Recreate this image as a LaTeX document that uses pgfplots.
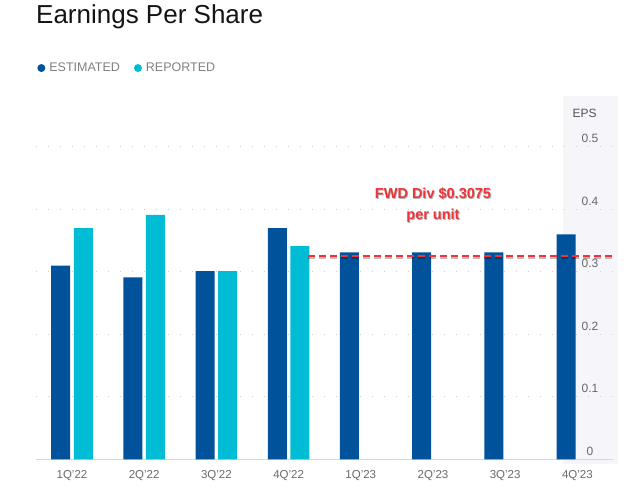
\documentclass[border=0pt]{standalone}
\usepackage{pgfplots}
\pgfplotsset{compat=1.18}
\usepackage{fontspec}
\setmainfont{Liberation Sans}
\definecolor{estc}{RGB}{0,82,155}
\definecolor{repc}{RGB}{0,188,212}
\definecolor{bandc}{RGB}{245,245,250}
\definecolor{gridc}{RGB}{205,205,205}
\definecolor{basec}{RGB}{208,216,232}
\definecolor{tickc}{RGB}{105,105,105}
\definecolor{legc}{RGB}{128,128,128}
\definecolor{redc}{RGB}{236,52,58}
\definecolor{titlec}{RGB}{20,20,20}
\begin{document}
\begin{tikzpicture}[x=1pt,y=1pt]
\path[use as bounding box] (0,0) rectangle (640,492);
\fill[bandc] (563,28) rectangle (618,396);
\node[anchor=base west, font=\fontsize{26}{30}\selectfont, text=titlec, inner sep=0] at (36,468.7) {Earnings Per Share};
\node[font=\fontsize{12}{14}\selectfont, text=tickc!80!black] at (584.5,379) {EPS};
\begin{axis}[
  at={(35.9pt,32.7pt)}, anchor=south west,
  scale only axis, width=577.6pt, height=312.5pt,
  xmin=-0.5, xmax=7.5, ymin=0, ymax=0.5,
  clip=false,
  axis line style={draw=none},
  major tick length=0pt,
  xtick={0,1,2,3,4,5,6,7},
  xticklabels={1Q'22,2Q'22,3Q'22,4Q'22,1Q'23,2Q'23,3Q'23,4Q'23},
  xticklabel style={font=\fontsize{11.5}{13}\selectfont, text=tickc, anchor=center, yshift=-16.7pt},
  ytick={0,0.1,0.2,0.3,0.4,0.5},
  yticklabels={0,0.1,0.2,0.3,0.4,0.5},
  yticklabel pos=right,
  yticklabel style={font=\fontsize{12}{14}\selectfont, text=tickc, anchor=center, xshift=-23.5pt, yshift=8pt},
  ymajorgrids,
  grid style={draw=gridc, line width=1pt, dash pattern=on 1pt off 11pt},
  legend style={at={(-0.003,1.252)}, anchor=west, draw=none, fill=none,
    font=\fontsize{12.5}{14}\selectfont, text=legc,
    /tikz/every even column/.append style={column sep=12pt}},
  legend columns=2, legend cell align=left,
]
\addlegendimage{legend image code/.code={\path[draw=none,fill=none] (0pt,-1pt) rectangle (10pt,1pt); \fill[estc,draw=none] (4pt,0pt) circle (4pt);}}
\addlegendentry{ESTIMATED}
\addlegendimage{legend image code/.code={\path[draw=none,fill=none] (0pt,-1pt) rectangle (10pt,1pt); \fill[repc,draw=none] (4pt,0pt) circle (4pt);}}
\addlegendentry{REPORTED}
\draw[basec, line width=1.2pt] (rel axis cs:0,0) -- (rel axis cs:1,0);
\addplot[forget plot, ybar, bar width=19pt, bar shift=-11.3pt, fill=estc, draw=none]
  coordinates {(0,0.310) (1,0.291) (2,0.301) (3,0.370) (4,0.331) (5,0.331) (6,0.331) (7,0.360)};
\addplot[forget plot, ybar, bar width=19pt, bar shift=11.3pt, fill=repc, draw=none]
  coordinates {(0,0.370) (1,0.391) (2,0.301) (3,0.341)};
\addplot[forget plot, sharp plot, no marks, draw=black, opacity=0.25, line width=1.8pt, dash pattern=on 7pt off 4pt, yshift=-1.6pt]
  coordinates {(3.27,0.325) (7.48,0.325)};
\addplot[forget plot, sharp plot, no marks, draw=redc, line width=1.6pt, dash pattern=on 7pt off 4pt]
  coordinates {(3.27,0.325) (7.48,0.325)};
\node[font=\bfseries\fontsize{14.5}{21}\selectfont, text=black, opacity=0.3, align=center, xshift=0.9pt, yshift=-0.9pt] at (axis cs:5.0,0.406) {FWD Div \$0.3075\\per unit};
\node[font=\bfseries\fontsize{14.5}{21}\selectfont, text=redc, align=center] at (axis cs:5.0,0.406) {FWD Div \$0.3075\\per unit};
\end{axis}
\end{tikzpicture}
\end{document}
